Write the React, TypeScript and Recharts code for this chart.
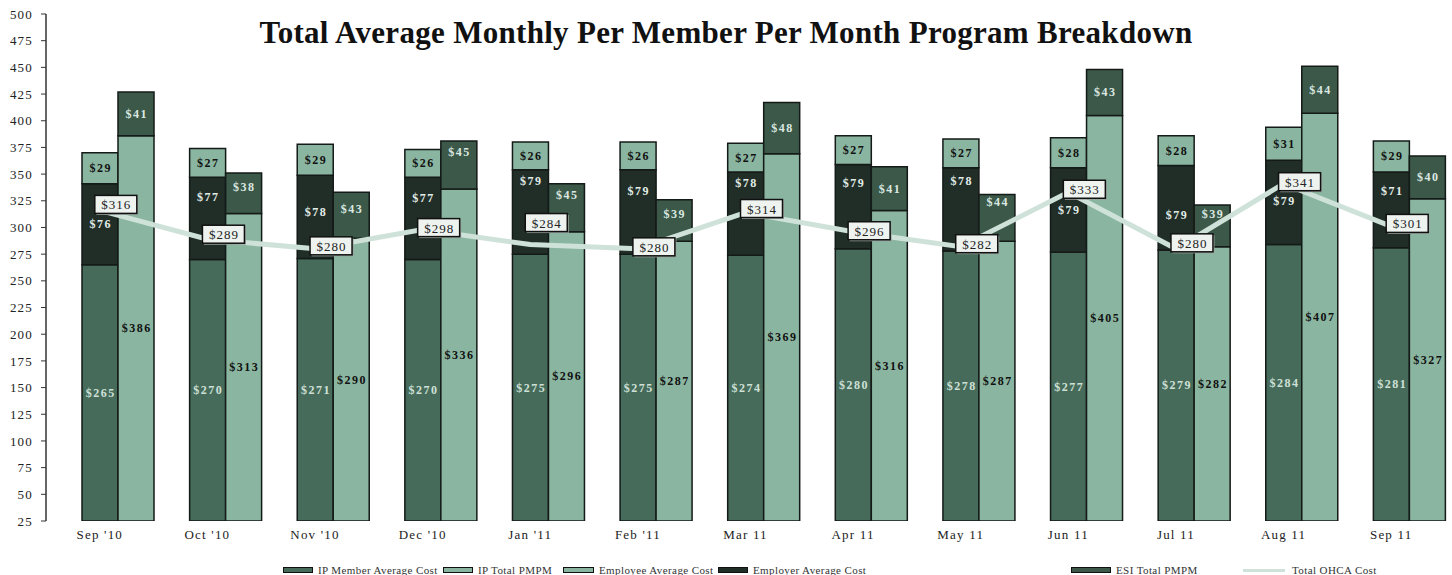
import React from "react"
import { ComposedChart, Bar, Line, XAxis, YAxis, LabelList } from "recharts"

const months = ["Sep '10", "Oct '10", "Nov '10", "Dec '10", "Jan '11", "Feb '11", "Mar 11", "Apr 11", "May 11", "Jun 11", "Jul 11", "Aug 11", "Sep 11"]
const ipMemberAvg = [265, 270, 271, 270, 275, 275, 274, 280, 278, 277, 279, 284, 281]
const employerAvg = [76, 77, 78, 77, 79, 79, 78, 79, 78, 79, 79, 79, 71]
const employeeAvg = [29, 27, 29, 26, 26, 26, 27, 27, 27, 28, 28, 31, 29]
const ipTotalPmpm = [386, 313, 290, 336, 296, 287, 369, 316, 287, 405, 282, 407, 327]
const esiTotalPmpm = [41, 38, 43, 45, 45, 39, 48, 41, 44, 43, 39, 44, 40]
const ohcaTotal = [316, 289, 280, 298, 284, 280, 314, 296, 282, 333, 280, 341, 301]
const yTicks = [25, 50, 75, 100, 125, 150, 175, 200, 225, 250, 275, 300, 325, 350, 375, 400, 425, 450, 475, 500]

// hand-placed label nudges (px, negative = up), as in the original workbook
const employerLabelNudge = [0, -21, -5, -20, -31, -21, -31, -24, -28, 0, 7, -1, -19]
const esiLabelNudge = [0, -6, -6, -13, -13, -7, 0, 0, -16, 0, -12, 0, 0]
const ohcaLabelNudge = [-6, -5, -3, -2, -22, -2, -4, -1, -3, -3, -6, -2, -3]

const data = months.map((month, i) => ({
  month,
  ipMember: ipMemberAvg[i],
  employer: employerAvg[i],
  employee: employeeAvg[i],
  ipTotal: ipTotalPmpm[i],
  esi: esiTotalPmpm[i],
  ohca: ohcaTotal[i],
}))

const W = 1452
const H = 575
const MARGIN = { top: 14, right: 7, bottom: 24, left: 0 }
const XAXIS_H = 30
const PLOT_TOP = MARGIN.top
const PLOT_BOTTOM = H - MARGIN.bottom - XAXIS_H

const C = {
  ipMember: "#466b5a",
  employer: "#212e28",
  employee: "#8ab5a0",
  ipTotal: "#8ab5a0",
  esi: "#3b5848",
  line: "#cfe2d9",
  edge: "#141a17",
}

const FONT = "'Liberation Serif', 'Times New Roman', serif"

// label centred on the visible (clipped) part of the segment
function segLabel(fill: string, nudge?: number[]) {
  return (props: any) => {
    const { x, y, width, height, value, index } = props
    const top = Math.max(Math.min(y, y + height), PLOT_TOP)
    const bottom = Math.min(Math.max(y, y + height), PLOT_BOTTOM)
    const cy = (top + bottom) / 2 + (nudge ? nudge[index] ?? 0 : 0)
    return (
      <text
        x={x + width / 2 + 0.75}
        y={cy}
        textAnchor="middle"
        dominantBaseline="central"
        fill={fill}
        fontSize={12}
        fontWeight="bold"
        fontFamily={FONT}
        letterSpacing={1.5}
      >
        ${value}
      </text>
    )
  }
}

function OhcaLabel(props: any) {
  const { x, y, value, index } = props
  const w = 42
  const h = 18
  const cx = x + 16
  const cy = y + (ohcaLabelNudge[index] ?? 0)
  return (
    <g>
      <rect x={cx - w / 2 + 1.5} y={cy - h / 2 + 1.5} width={w} height={h} fill="#9aa39e" />
      <rect x={cx - w / 2} y={cy - h / 2} width={w} height={h} fill="#eef3f0" stroke="#111" strokeWidth={1.5} />
      <text
        x={cx + 0.5}
        y={cy + 0.5}
        textAnchor="middle"
        dominantBaseline="central"
        fill="#222"
        fontSize={13}
        fontFamily={FONT}
        letterSpacing={1}
      >
        ${value}
      </text>
    </g>
  )
}

const legendItems = [
  { name: "IP Member Average Cost", color: C.ipMember, left: 283, sw: 30 },
  { name: "IP Total PMPM", color: C.ipTotal, left: 443, sw: 30 },
  { name: "Employee Average Cost", color: C.employee, left: 563, sw: 31 },
  { name: "Employer Average Cost", color: C.employer, left: 718, sw: 30 },
  { name: "ESI Total PMPM", color: C.esi, left: 1071, sw: 40 },
]

export default function App() {
  React.useEffect(() => {
    document.body.style.margin = "0"
  }, [])

  const tickStyle = { fontSize: 13, fill: "#222", fontFamily: FONT, letterSpacing: 1.2 }
  const legendText = { fontSize: 11, color: "#333", letterSpacing: 0.4, whiteSpace: "nowrap" as const }

  return (
    <div style={{ position: "relative", width: W, height: H, background: "#fff", fontFamily: FONT }}>
      <ComposedChart width={W} height={H} data={data} margin={MARGIN} barCategoryGap={0} barGap={0}>
        <XAxis
          dataKey="month"
          height={XAXIS_H}
          tickLine={false}
          axisLine={false}
          tickSize={0}
          tickMargin={9}
          interval={0}
          tick={tickStyle}
        />
        <YAxis
          width={46}
          domain={[25, 500]}
          ticks={yTicks}
          interval={0}
          allowDataOverflow
          tickSize={5}
          tickMargin={8}
          axisLine={{ stroke: "#333", strokeWidth: 1.5 }}
          tickLine={{ stroke: "#333" }}
          tick={tickStyle}
        />
        {/* empty slot that pushes the two stacks right of the category centre */}
        <Bar dataKey={() => 0} stackId="spacer" fill="none" legendType="none" isAnimationActive={false} />
        <Bar dataKey="ipMember" name="IP Member Average Cost" stackId="a" fill={C.ipMember} stroke={C.edge} strokeWidth={1.5} isAnimationActive={false}>
          <LabelList dataKey="ipMember" content={segLabel("#cfe0d7")} />
        </Bar>
        <Bar dataKey="employer" name="Employer Average Cost" stackId="a" fill={C.employer} stroke={C.edge} strokeWidth={1.5} isAnimationActive={false}>
          <LabelList dataKey="employer" content={segLabel("#e3ede8", employerLabelNudge)} />
        </Bar>
        <Bar dataKey="employee" name="Employee Average Cost" stackId="a" fill={C.employee} stroke={C.edge} strokeWidth={1.5} isAnimationActive={false}>
          <LabelList dataKey="employee" content={segLabel("#111")} />
        </Bar>
        <Bar dataKey="ipTotal" name="IP Total PMPM" stackId="b" fill={C.ipTotal} stroke={C.edge} strokeWidth={1.5} isAnimationActive={false}>
          <LabelList dataKey="ipTotal" content={segLabel("#111")} />
        </Bar>
        <Bar dataKey="esi" name="ESI Total PMPM" stackId="b" fill={C.esi} stroke={C.edge} strokeWidth={1.5} isAnimationActive={false}>
          <LabelList dataKey="esi" content={segLabel("#dce8e2", esiLabelNudge)} />
        </Bar>
        <Line
          dataKey="ohca"
          name="Total OHCA Cost"
          type="linear"
          stroke={C.line}
          strokeWidth={5}
          dot={false}
          activeDot={false}
          isAnimationActive={false}
        >
          <LabelList dataKey="ohca" content={OhcaLabel} />
        </Line>
      </ComposedChart>

      <div
        style={{
          position: "absolute",
          top: 17,
          left: 0,
          width: W,
          textAlign: "center",
          fontSize: 31,
          letterSpacing: 0.3,
          lineHeight: 1,
          fontWeight: "bold",
          color: "#111",
          pointerEvents: "none",
        }}
      >
        Total Average Monthly Per Member Per Month Program Breakdown
      </div>

      {legendItems.map((it) => (
        <div
          key={it.name}
          style={{ position: "absolute", left: it.left, top: 563, height: 14, display: "flex", alignItems: "center" }}
        >
          <span
            style={{
              display: "inline-block",
              width: it.sw,
              height: 6,
              background: it.color,
              border: "1.5px solid #111",
              boxSizing: "border-box",
              marginRight: 5,
            }}
          />
          <span style={legendText}>{it.name}</span>
        </div>
      ))}
      <div style={{ position: "absolute", left: 1243, top: 563, height: 14, display: "flex", alignItems: "center" }}>
        <span style={{ display: "inline-block", width: 42, height: 3, background: C.line, marginRight: 7 }} />
        <span style={legendText}>Total OHCA Cost</span>
      </div>
    </div>
  )
}
